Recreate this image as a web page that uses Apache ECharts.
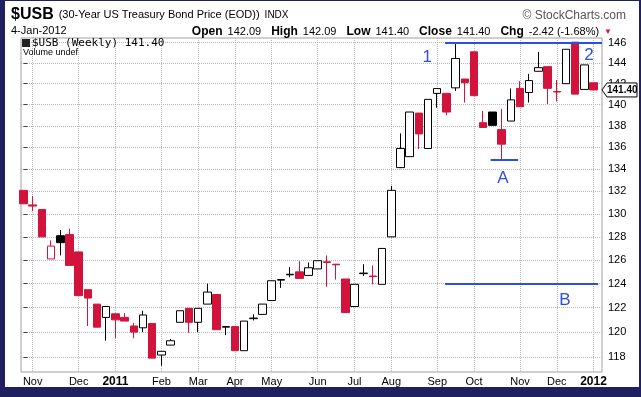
<!DOCTYPE html>
<html>
<head>
<meta charset="utf-8">
<script src="https://cdn.jsdelivr.net/npm/echarts@6/dist/echarts.min.js"></script>
<style>
html, body { margin: 0; padding: 0; background: #fff; }
#main { width: 641px; height: 397px; }
</style>
</head>
<body>
<div id="main"></div>
<script>
// weekly bars, 25-Oct-2010 .. 2-Jan-2012
var opens = [132.1, 130.8, 130.4, 126.1, 128.1, 128.2, 126.7, 123.5, 122.3, 121.2,
  121.5, 121.2, 120.5, 120.35, 120.7, 118.15, 118.95, 120.8, 121.95, 120.8,
  122.3, 123.1, 120.4, 120.45, 118.5, 121.1, 121.45, 122.6, 124.3, 124.75,
  125.0, 124.7, 125.25, 125.85, 125.65, 124.4, 122.1, 124.85, 124.65, 123.95,
  128.0, 134.15, 135.15, 139.2, 135.9, 141.07, 141.07, 141.6, 142.45, 145.1,
  138.3, 139.3, 137.65, 138.45, 141.55, 141.15, 143.2, 143.65, 141.25, 142.0,
  146.05, 141.45, 142.09];
var closes = [130.9, 130.7, 128.0, 127.2, 127.5, 125.55, 123.0, 122.8, 120.4, 122.1,
  121.0, 120.9, 120.0, 121.4, 117.9, 118.45, 119.3, 121.75, 120.8, 121.95,
  123.3, 120.2, 120.45, 118.5, 120.9, 121.15, 122.3, 124.25, 124.35, 124.8,
  124.45, 125.35, 125.95, 125.8, 125.6, 121.6, 123.95, 124.9, 124.6, 127.0,
  132.1, 135.9, 139.3, 137.25, 140.5, 141.53, 139.3, 144.45, 142.1, 140.85,
  137.85, 138.05, 136.3, 140.45, 139.8, 142.3, 143.55, 141.55, 141.2, 145.35,
  141.0, 143.82, 141.40];
var lows = [130.9, 130.25, 128.0, 126.1, 126.4, 125.55, 123.0, 120.5, 120.4, 119.3,
  119.5, 120.9, 119.5, 120.0, 117.9, 117.3, 118.95, 120.8, 119.95, 120.0,
  122.3, 120.2, 119.75, 118.5, 118.5, 120.95, 121.45, 122.6, 123.65, 124.55,
  124.45, 124.7, 125.25, 123.75, 124.35, 121.6, 122.1, 124.65, 123.95, 123.95,
  128.0, 134.1, 135.15, 135.85, 135.9, 139.7, 139.0, 141.3, 140.2, 140.85,
  137.85, 138.05, 134.85, 138.45, 139.8, 140.2, 143.2, 140.05, 140.3, 142.0,
  141.0, 141.45, 141.40];
var highs = [132.1, 131.6, 130.4, 127.7, 128.6, 128.7, 126.7, 123.5, 122.3, 122.1,
  121.5, 121.55, 120.75, 121.75, 120.7, 118.45, 119.45, 121.75, 121.95, 121.95,
  124.0, 123.1, 120.45, 120.45, 120.9, 121.45, 122.3, 124.25, 124.35, 125.4,
  125.9, 125.8, 125.95, 126.4, 125.65, 124.4, 123.95, 125.65, 125.55, 127.0,
  132.5, 137.3, 139.3, 139.2, 140.5, 141.53, 141.07, 146.0, 142.45, 145.1,
  139.4, 139.3, 139.6, 141.55, 142.25, 142.95, 145.1, 143.65, 142.35, 145.35,
  146.05, 143.82, 142.09];

var monthTickIdx = [1, 6, 10, 15, 19, 23, 27, 32, 36, 40, 45, 49, 54, 58, 62];
var monthTickLabels = ['Nov', 'Dec', '2011', 'Feb', 'Mar', 'Apr', 'May', 'Jun', 'Jul', 'Aug', 'Sep', 'Oct', 'Nov', 'Dec', '2012'];
var priceTicks = [118, 120, 122, 124, 126, 128, 130, 132, 134, 136, 138, 140, 142, 144, 146];

var RED = '#d2143c';
var BLUE = '#2b4fe3';
var NAVY = '#202060';
var FONT = 'Liberation Sans';

var candles = [];
for (var i = 0; i < opens.length; i++) {
  var prev = i > 0 ? closes[i - 1] : Infinity;
  var c = closes[i] < prev ? RED : '#000';
  var fill = closes[i] > opens[i] ? '#fff' : c;
  candles.push({
    value: [i, Math.log(opens[i]), Math.log(closes[i]), Math.log(lows[i]), Math.log(highs[i])],
    itemStyle: { color: fill, color0: fill, borderColor: c, borderColor0: c, borderColorDoji: c }
  });
}

function frameGraphics(py) {
  var g = [
    { id: 'legIcon', type: 'rect', left: 22, top: 39, shape: { width: 8, height: 8 }, style: { fill: '#222' }, z: 10 },
    { id: 'legText', type: 'text', left: 32, top: 38, z: 10,
      style: { text: '$USB (Weekly) 141.40', font: '11px "DejaVu Sans Mono"', fill: '#000' } },
    { id: 'legVol', type: 'text', left: 23, top: 48, z: 10,
      style: { text: 'Volume undef', font: '9px "Liberation Sans"', fill: '#000' } },
    { id: 'bL', type: 'rect', left: 0, top: 0, shape: { width: 5, height: 397 }, style: { fill: NAVY }, z: 20 },
    { id: 'bB', type: 'rect', left: 0, top: 387, shape: { width: 641, height: 10 }, style: { fill: NAVY }, z: 20 },
    { id: 'bT', type: 'rect', left: 0, top: 0, shape: { width: 641, height: 1 }, style: { fill: NAVY }, z: 20 },
    { id: 'bR', type: 'rect', left: 639, top: 0, shape: { width: 2, height: 397 }, style: { fill: NAVY }, z: 20 }
  ];
  if (py != null) {
    g.push({
      id: 'tagBox', type: 'polygon', z: 15,
      shape: { points: [[602, py], [607, py - 7], [637, py - 7], [637, py + 7], [607, py + 7]] },
      style: { fill: '#fff', stroke: '#000', lineWidth: 1 }
    }, {
      id: 'tagText', type: 'text', z: 16, x: 607, y: py - 5,
      style: { text: closes[closes.length - 1].toFixed(2), font: 'bold 10px "Liberation Sans"', fill: '#000' }
    });
  }
  return g;
}

var myChart = echarts.init(document.getElementById('main'));
var option = {
  animation: false,
  backgroundColor: '#fff',
  title: [{
    left: 6, top: 1,
    text: '{b|$USB} {n|(30-Year US Treasury Bond Price (EOD))} {s|INDX}',
    textStyle: { rich: {
      b: { fontSize: 16, fontWeight: 'bold', fontFamily: FONT, color: '#000' },
      n: { fontSize: 11, fontWeight: 'normal', fontFamily: FONT, color: '#000' },
      s: { fontSize: 10, fontWeight: 'normal', fontFamily: FONT, color: '#000' }
    } }
  }, {
    right: 10, top: 5,
    text: '\u00a9 StockCharts.com',
    textStyle: { fontSize: 12, fontWeight: 'normal', fontFamily: FONT, color: '#555' }
  }, {
    left: 6, top: 20,
    text: '4-Jan-2012',
    textStyle: { fontSize: 11, fontWeight: 'normal', fontFamily: FONT, color: '#000' }
  }, {
    right: 24, top: 18,
    text: '{l|Open} {v|142.09}  {l|High} {v|142.09}  {l|Low} {v|141.40}  {l|Close} {v|141.40}  {l|Chg} {v|-2.42 (-1.68%)} {t|\u25bc}',
    textStyle: { rich: {
      l: { fontSize: 12, fontWeight: 'bold', fontFamily: FONT, color: '#000' },
      v: { fontSize: 11, fontWeight: 'normal', fontFamily: FONT, color: '#000' },
      t: { fontSize: 8, fontWeight: 'normal', color: RED }
    } }
  }],
  grid: {
    left: 21, top: 38, right: 39, bottom: 25,
    show: true, backgroundColor: '#fff', borderColor: '#a0a0a0', borderWidth: 1
  },
  xAxis: {
    type: 'value',
    min: -0.272, max: 62.92,
    axisLine: { show: false },
    axisTick: { show: false, customValues: monthTickIdx },
    axisLabel: {
      customValues: monthTickIdx,
      margin: 4,
      fontSize: 11, fontFamily: FONT, color: '#000',
      formatter: function (v) {
        var s = monthTickLabels[monthTickIdx.indexOf(Math.round(v))] || '';
        return s.length === 4 ? '{y|' + s + '}' : s;
      },
      rich: { y: { fontSize: 12, fontWeight: 'bold', fontFamily: FONT, color: '#000' } }
    },
    splitLine: { show: true, lineStyle: { type: 'dotted', color: '#b8b8b8' } }
  },
  yAxis: {
    type: 'value',
    position: 'right',
    min: Math.log(116.8), max: Math.log(146.465),
    axisLine: { show: false },
    axisTick: { show: true, length: 4, customValues: priceTicks.map(Math.log), lineStyle: { color: '#444' } },
    axisLabel: {
      customValues: priceTicks.map(Math.log),
      margin: 6,
      fontSize: 11, fontFamily: FONT, color: '#000',
      formatter: function (v) { return Math.round(Math.exp(v)); }
    },
    splitLine: { show: true, lineStyle: { type: 'dotted', color: '#b8b8b8' } }
  },
  series: [{
    type: 'candlestick',
    barWidth: 8,
    clip: true,
    data: candles,
    itemStyle: { borderWidth: 1 },
    markLine: {
      silent: true,
      symbol: 'none',
      label: { show: false },
      lineStyle: { color: BLUE, width: 2, type: 'solid' },
      data: [
        [{ coord: [45.85, Math.log(146.0)] }, { coord: [62.92, Math.log(146.0)] }],
        [{ coord: [50.8, Math.log(134.85)] }, { coord: [53.8, Math.log(134.85)] }],
        [{ coord: [45.85, Math.log(124.0)] }, { coord: [62.5, Math.log(124.0)] }]
      ]
    },
    markPoint: {
      silent: true,
      symbol: 'circle',
      symbolSize: 1,
      itemStyle: { color: 'rgba(0,0,0,0)' },
      label: { show: true, position: 'inside', color: BLUE, fontSize: 17, fontFamily: FONT },
      data: [
        { coord: [43.9, Math.log(144.6)], label: { formatter: '1' } },
        { coord: [61.5, Math.log(144.8)], label: { formatter: '2' } },
        { coord: [52.15, Math.log(133.2)], label: { formatter: 'A' } },
        { coord: [58.9, Math.log(122.6)], label: { formatter: 'B' } }
      ]
    }
  }],
  graphic: frameGraphics(null)
};
myChart.setOption(option);

// last price tag on the right axis
var py = myChart.convertToPixel({ yAxisIndex: 0 }, Math.log(closes[closes.length - 1]));
myChart.setOption({ graphic: frameGraphics(py) });
</script>
</body>
</html>
